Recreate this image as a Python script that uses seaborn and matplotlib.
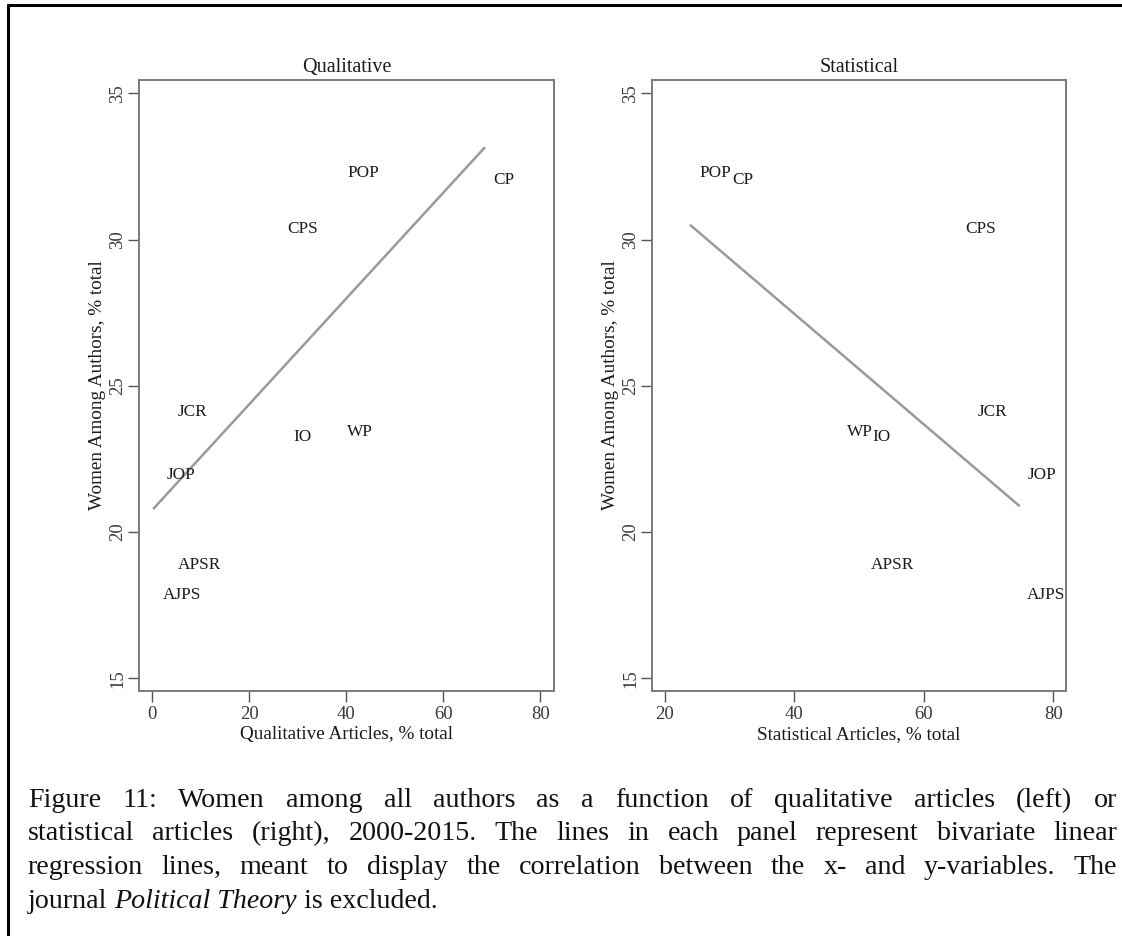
import numpy as np
import pandas as pd
import matplotlib
matplotlib.use("Agg")
import matplotlib.pyplot as plt
import seaborn as sns
from matplotlib.lines import Line2D

# ---------------- data ----------------
journals = ["POP", "CP", "CPS", "JCR", "IO", "WP", "JOP", "APSR", "AJPS"]
women_pct = [32.27, 32.04, 30.36, 24.11, 23.26, 23.41, 21.95, 18.87, 17.85]
qualitative_pct = [38.3, 68.45, 25.95, 3.3, 27.25, 38.25, 1.1, 3.5, 0.3]
statistical_pct = [24.0, 29.0, 65.0, 66.9, 50.7, 46.7, 74.7, 50.4, 74.5]

panel_titles = ["Qualitative", "Statistical"]
x_labels = ["Qualitative Articles, % total", "Statistical Articles, % total"]
y_label = "Women Among Authors, % total"
x_ticks = [[0, 20, 40, 60, 80], [20, 40, 60, 80]]
y_ticks = [15, 20, 25, 30, 35]
x_limits = [(-2.68, 82.82), (18.09, 81.9)]
y_limits = (14.576, 35.455)

caption_lines = [
    "Figure 11: Women among all authors as a function of qualitative articles (left) or",
    "statistical articles (right), 2000-2015. The lines in each panel represent bivariate linear",
    "regression lines, meant to display the correlation between the x- and y-variables. The",
]
caption_last = [("journal", "normal"), ("Political Theory", "italic"), ("is excluded.", "normal")]

df = pd.DataFrame({"journal": journals, "women": women_pct,
                   "qual": qualitative_pct, "stat": statistical_pct})

# ---------------- style ----------------
sns.set_theme(style="white")
plt.rcParams["font.family"] = ["Liberation Serif", "DejaVu Serif"]
plt.rcParams["axes.edgecolor"] = "#7a7a7a"
plt.rcParams["axes.linewidth"] = 1.4

W, H = 1122, 936
fig = plt.figure(figsize=(W / 100, H / 100), dpi=100)
fig.patch.set_facecolor("white")

positions = [[139.3 / W, 1 - 690.7 / H, (554 - 139.3) / W, (690.7 - 80) / H],
             [652.3 / W, 1 - 690.7 / H, (1065.7 - 652.3) / W, (690.7 - 80) / H]]
xcols = ["qual", "stat"]

for i in range(2):
    ax = fig.add_axes(positions[i])
    sns.regplot(data=df, x=xcols[i], y="women", ax=ax, scatter=False, ci=None,
                truncate=True, color="#9a9a9a", line_kws={"linewidth": 1.8})
    for _, r in df.iterrows():
        ax.annotate(r["journal"], (r[xcols[i]], r["women"]), xytext=(9, 0),
                    textcoords="offset pixels", ha="left", va="center",
                    fontsize=12.4, color="#1a1a1a")
    ax.set_xlim(*x_limits[i])
    ax.set_ylim(*y_limits)
    ax.set_xticks(x_ticks[i])
    ax.set_yticks(y_ticks)
    ax.set_xticklabels([str(t) for t in x_ticks[i]])
    ax.set_yticklabels([str(t) for t in y_ticks], rotation=90, va="center")
    ax.tick_params(axis="both", direction="out", length=8, width=1.0,
                   color="#555555", labelsize=13.5, labelcolor="#3a3a3a",
                   bottom=True, left=True)
    ax.tick_params(axis="y", pad=1.5)
    ax.tick_params(axis="x", pad=3)
    ax.set_xlabel(x_labels[i], fontsize=13.8, color="#1a1a1a", labelpad=2.5)
    ax.set_ylabel(y_label, fontsize=13.8, color="#1a1a1a", labelpad=2)
    ax.set_title(panel_titles[i], fontsize=14.5, color="#1a1a1a", pad=6)
    for s in ax.spines.values():
        s.set_visible(True)
        s.set_color("#7a7a7a")

# ---------------- page border (left + top) ----------------
fig.add_artist(Line2D([7.5 / W, 7.5 / W], [0, 1 - 5 / H], transform=fig.transFigure,
                      color="black", linewidth=2.2))
fig.add_artist(Line2D([7.5 / W, 1], [1 - 5 / H, 1 - 5 / H], transform=fig.transFigure,
                      color="black", linewidth=2.2))

# ---------------- caption (justified) ----------------
cap_size = 20.2
left_px, right_px = 28, 1117
baselines = [806.7, 840.5, 874.3, 908.1]
renderer = fig.canvas.get_renderer()

for li, line in enumerate(caption_lines):
    words = line.split(" ")
    texts = [fig.text(0, 1 - baselines[li] / H, w, fontsize=cap_size, va="baseline",
                      ha="left", color="#111111") for w in words]
    widths = [t.get_window_extent(renderer).width for t in texts]
    gap = (right_px - left_px - sum(widths)) / (len(words) - 1)
    x = left_px
    for t, w in zip(texts, widths):
        t.set_x(x / W)
        x += w + gap

space_t = fig.text(0, 0, "a a", fontsize=cap_size)
aa = space_t.get_window_extent(renderer).width
a1 = fig.text(0, 0, "aa", fontsize=cap_size)
space_w = aa - a1.get_window_extent(renderer).width
space_t.remove(); a1.remove()
x = left_px
for word, style in caption_last:
    t = fig.text(x / W, 1 - baselines[3] / H, word, fontsize=cap_size, va="baseline",
                 ha="left", style=style, color="#111111")
    x += t.get_window_extent(renderer).width + space_w

fig.savefig("out.png", dpi=100, facecolor="white")
